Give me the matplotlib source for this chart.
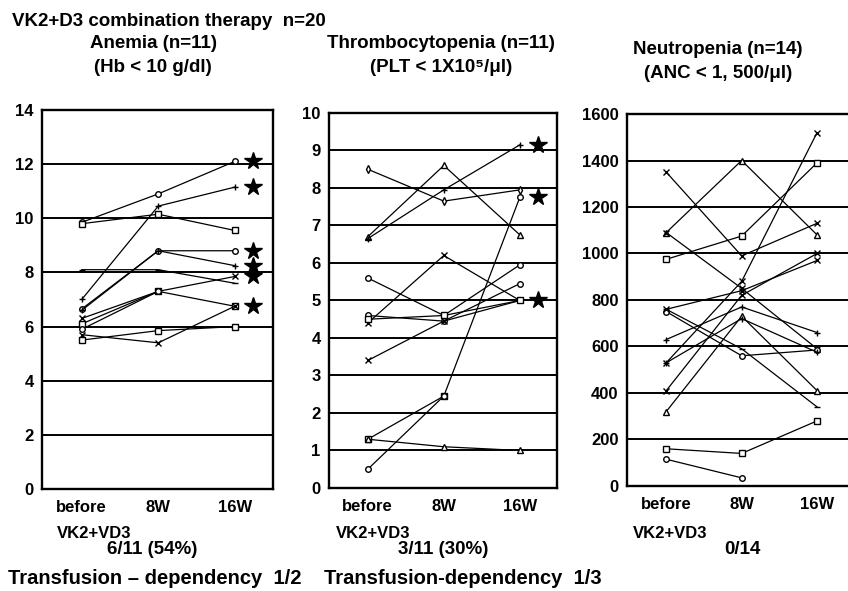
import numpy as np
import matplotlib
matplotlib.use("Agg")
import matplotlib.pyplot as plt

plt.rcParams['font.family'] = ['Liberation Sans', 'DejaVu Sans']
plt.rcParams['font.weight'] = 'bold'

timepoints = ["before", "8W", "16W"]
nan = np.nan

# --- Anemia: Hb (g/dl) ---
hb_values = [
    [9.85, 10.9, 12.1],
    [9.8, 10.15, 9.55],
    [7.0, 10.45, 11.15],
    [6.65, 8.8, 8.8],
    [6.6, 8.8, 8.25],
    [8.1, 8.1, 7.6],
    [6.3, 7.3, 7.85],
    [6.1, 7.3, 6.75],
    [5.9, 7.3, nan],
    [5.7, 5.4, 6.75],
    [5.5, 5.85, 6.0],
]
hb_markers = ['o', 's', '+', 'o', '+', '_', 'x', 's', 'o', 'x', 's']
hb_response = [1, 0, 1, 1, 1, 0, 1, 1, 0, 0, 0]

# --- Thrombocytopenia: PLT ---
plt_values = [
    [8.5, 7.65, 7.95],
    [6.7, 8.6, 6.75],
    [6.65, 7.95, 9.15],
    [5.6, 4.6, 5.95],
    [4.4, 6.2, 5.0],
    [4.6, 4.45, 5.45],
    [3.4, 4.45, 5.0],
    [4.5, 4.6, 5.0],
    [1.3, 2.45, nan],
    [0.5, 2.45, 7.75],
    [1.3, 1.1, 1.0],
]
plt_markers = ['d', '^', '+', 'o', 'x', 'o', 'x', 's', 's', 'o', '^']
plt_response = [0, 0, 1, 0, 1, 0, 0, 0, 0, 1, 0]

# --- Neutropenia: ANC (/ul) ---
anc_values = [
    [1350, 990, 1130],
    [1090, 1400, 1080],
    [1090, 850, 590],
    [975, 1075, 1390],
    [760, 590, 340],
    [750, 560, 585],
    [630, 770, 660],
    [530, 880, 1520],
    [410, 820, 1000],
    [320, 730, 410],
    [760, 840, 970],
    [160, 140, 280],
    [115, 35, nan],
    [530, 720, 575],
]
anc_markers = ['x', '^', 'x', 's', '_', 'o', '+', 'x', 'x', '^', 'x', 's', 'o', '+']

fig = plt.figure(figsize=(8.48, 5.91), dpi=100)


def draw_panel(rect, values, markers, ylim, yticks, xlim, response=None, right_spine=True):
    ax = fig.add_axes(rect)
    x = np.arange(len(timepoints))
    for yt in yticks[1:-1]:
        ax.axhline(yt, color='black', lw=1.4, zorder=1)
    for vals, m in zip(values, markers):
        ax.plot(x, vals, color='black', lw=0.9, marker=m, ms=4,
                mfc='white', mec='black', mew=1.0, zorder=3)
    if response is not None:
        for vals, r in zip(values, response):
            if r:
                ax.plot(2.24, vals[2], marker='*', ms=13, color='black',
                        mec='black', zorder=4, clip_on=False)
    ax.set_xlim(*xlim)
    ax.set_ylim(*ylim)
    ax.set_yticks(yticks)
    ax.set_yticklabels([str(t) for t in yticks], fontsize=12, fontweight='bold')
    ax.set_xticks(x)
    ax.set_xticklabels(timepoints, fontsize=12, fontweight='bold')
    ax.tick_params(axis='both', length=0, pad=6)
    ax.tick_params(axis='x', pad=8)
    for s in ax.spines.values():
        s.set_linewidth(1.7)
    if not right_spine:
        ax.spines['right'].set_visible(False)
    return ax


draw_panel([0.0495, 0.1726, 0.2724, 0.6413], hb_values, hb_markers,
           (0, 14), [0, 2, 4, 6, 8, 10, 12, 14], (-0.52, 2.5), hb_response)
draw_panel([0.388, 0.1743, 0.2689, 0.6345], plt_values, plt_markers,
           (0, 10), list(range(0, 11)), (-0.51, 2.49), plt_response)
draw_panel([0.7394, 0.1777, 0.2606, 0.6294], anc_values, anc_markers,
           (0, 1600), [0, 200, 400, 600, 800, 1000, 1200, 1400, 1600],
           (-0.52, 2.41), None, right_spine=False)


def ftext(x, y, s, size=11, ha='left'):
    fig.text(x / 848, 1 - y / 591, s, fontsize=size, fontweight='bold',
             ha=ha, va='center')


ftext(12, 22, "VK2+D3 combination therapy  n=20", 13.5)

ftext(153, 44, "Anemia (n=11)", 13.5, 'center')
ftext(153, 68, "(Hb < 10 g/dl)", 13.5, 'center')
ftext(441, 44, "Thrombocytopenia (n=11)", 13.5, 'center')
ftext(441, 68, "(PLT < 1X10⁵/μl)", 13.5, 'center')
ftext(718, 50, "Neutropenia (n=14)", 13.5, 'center')
ftext(718, 73, "(ANC < 1, 500/μl)", 13.5, 'center')

ftext(57, 533, "VK2+VD3", 12)
ftext(336, 533, "VK2+VD3", 12)
ftext(633, 533, "VK2+VD3", 12)
ftext(152, 550, "6/11 (54%)", 13.5, 'center')
ftext(443, 549, "3/11 (30%)", 13.5, 'center')
ftext(742, 549, "0/14", 13.5, 'center')

ftext(8, 578, "Transfusion – dependency  1/2", 14.5)
ftext(324, 578, "Transfusion-dependency  1/3", 14.5)

fig.savefig("out.png", dpi=100)
